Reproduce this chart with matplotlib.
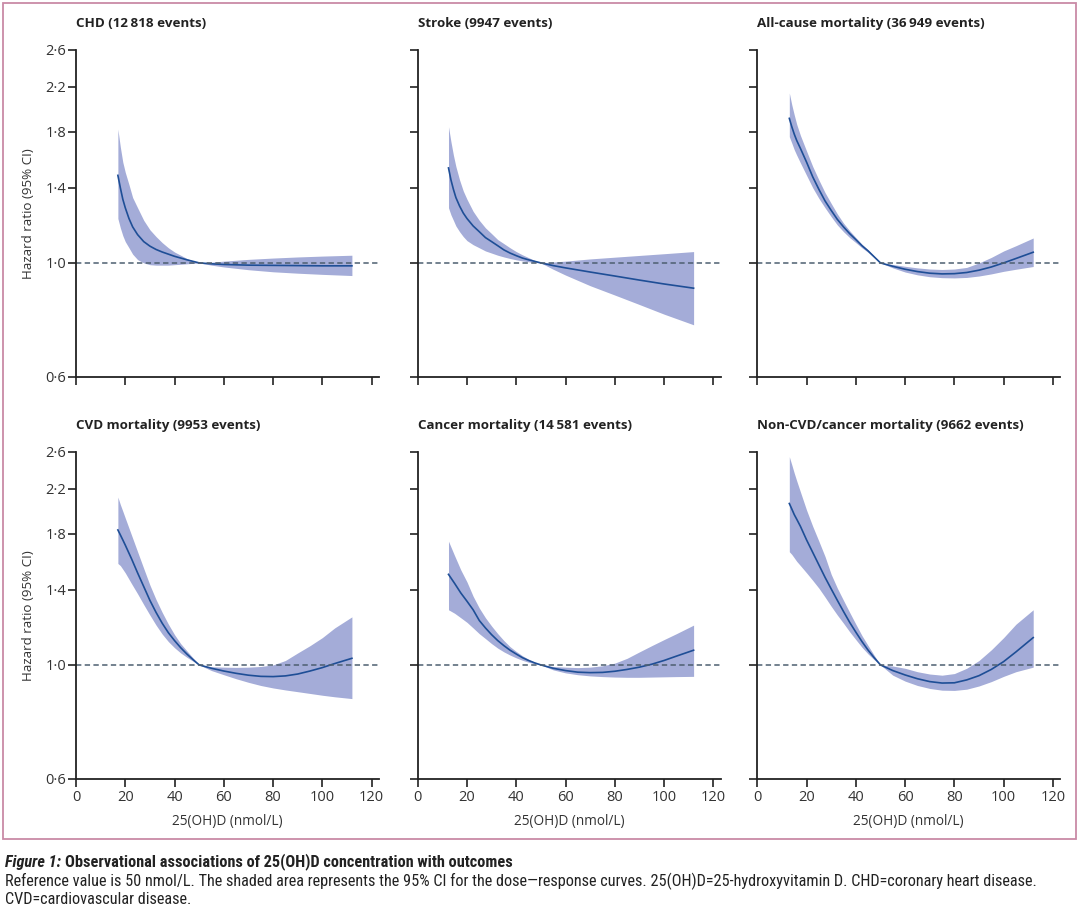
import matplotlib
matplotlib.use("Agg")
import matplotlib.pyplot as plt
from matplotlib import font_manager
from matplotlib.patches import Rectangle
from matplotlib.ticker import FixedLocator, NullLocator

# ---- data (25(OH)D in nmol/L, hazard ratios) ----
chd_x = [17, 18, 19, 20, 21.5, 23, 25, 27.5, 30, 32.5, 35, 37.5, 40, 42.5, 45, 47.5, 50,
         55, 60, 70, 80, 90, 100, 112]
chd_hr = [1.48, 1.40, 1.33, 1.28, 1.22, 1.175, 1.135, 1.10, 1.078, 1.062, 1.05, 1.04, 1.03, 1.022, 1.014, 1.007, 1.0,
          0.996, 0.993, 0.99, 0.989, 0.988, 0.987, 0.987]
chd_hi = [1.82, 1.68, 1.57, 1.50, 1.42, 1.34, 1.28, 1.21, 1.16, 1.125, 1.095, 1.07, 1.05, 1.035, 1.02, 1.009, 1.0,
          1.003, 1.008, 1.016, 1.022, 1.027, 1.031, 1.035]
chd_lo = [1.22, 1.17, 1.13, 1.10, 1.07, 1.04, 1.015, 1.0, 0.992, 0.99, 0.99, 0.99, 0.992, 0.994, 0.996, 0.998, 1.0,
          0.99, 0.982, 0.97, 0.961, 0.955, 0.95, 0.945]

stroke_x = [12.5, 13.5, 14.5, 15.5, 17, 18.5, 20, 22.5, 25, 27.5, 30, 32.5, 35, 37.5, 40, 42.5, 45, 47.5, 50,
            55, 60, 70, 80, 90, 100, 112]
stroke_hr = [1.53, 1.45, 1.39, 1.34, 1.29, 1.25, 1.22, 1.18, 1.15, 1.12, 1.10, 1.08, 1.06, 1.045, 1.033, 1.022,
             1.014, 1.007, 1.0, 0.988, 0.978, 0.96, 0.943, 0.926, 0.91, 0.893]
stroke_hi = [1.84, 1.72, 1.62, 1.54, 1.45, 1.38, 1.33, 1.26, 1.21, 1.17, 1.14, 1.11, 1.09, 1.07, 1.052, 1.037,
             1.024, 1.011, 1.0, 1.004, 1.008, 1.018, 1.026, 1.034, 1.042, 1.052]
stroke_lo = [1.28, 1.24, 1.21, 1.18, 1.15, 1.125, 1.105, 1.085, 1.07, 1.055, 1.045, 1.035, 1.027, 1.02, 1.014,
             1.009, 1.005, 1.002, 1.0, 0.972, 0.947, 0.903, 0.866, 0.83, 0.795, 0.758]

allc_x = [13, 14, 15, 16, 17.5, 20, 22.5, 25, 27.5, 30, 32.5, 35, 37.5, 40, 42.5, 45, 47.5, 50,
          55, 60, 65, 70, 75, 80, 85, 90, 95, 100, 105, 112]
allc_hr = [1.91, 1.84, 1.78, 1.73, 1.67, 1.57, 1.47, 1.39, 1.32, 1.265, 1.215, 1.175, 1.14, 1.11, 1.08, 1.055,
           1.027, 1.0, 0.985, 0.972, 0.962, 0.955, 0.952, 0.953, 0.958, 0.968, 0.982, 1.0, 1.02, 1.049]
allc_hi = [2.14, 2.03, 1.94, 1.86, 1.77, 1.65, 1.54, 1.45, 1.37, 1.305, 1.245, 1.195, 1.155, 1.12, 1.087, 1.06,
           1.03, 1.0, 0.993, 0.985, 0.978, 0.973, 0.971, 0.973, 0.98, 1.0, 1.025, 1.055, 1.08, 1.118]
allc_lo = [1.76, 1.71, 1.66, 1.62, 1.565, 1.48, 1.40, 1.335, 1.28, 1.23, 1.185, 1.15, 1.12, 1.095, 1.07, 1.048,
           1.024, 1.0, 0.978, 0.96, 0.948, 0.94, 0.936, 0.935, 0.937, 0.943, 0.952, 0.963, 0.972, 0.984]

cvd_x = [17, 18, 19, 20, 22.5, 25, 27.5, 30, 32.5, 35, 37.5, 40, 42.5, 45, 47.5, 50,
         55, 60, 65, 70, 75, 80, 85, 90, 95, 100, 105, 112]
cvd_hr = [1.83, 1.79, 1.75, 1.71, 1.61, 1.51, 1.42, 1.335, 1.265, 1.205, 1.155, 1.115, 1.08, 1.05, 1.024, 1.0,
          0.985, 0.973, 0.963, 0.955, 0.95, 0.949, 0.952, 0.96, 0.973, 0.988, 1.006, 1.03]
cvd_hi = [2.12, 2.05, 1.99, 1.93, 1.79, 1.66, 1.54, 1.43, 1.34, 1.265, 1.20, 1.145, 1.10, 1.065, 1.032, 1.0,
          0.992, 0.99, 0.989, 0.99, 0.993, 1.0, 1.02, 1.055, 1.09, 1.13, 1.18, 1.24]
cvd_lo = [1.575, 1.56, 1.535, 1.51, 1.44, 1.375, 1.31, 1.25, 1.195, 1.148, 1.11, 1.08, 1.055, 1.035, 1.017, 1.0,
          0.975, 0.957, 0.94, 0.925, 0.912, 0.902, 0.894, 0.887, 0.88, 0.873, 0.867, 0.86]

cancer_x = [12.5, 15, 17.5, 20, 22.5, 25, 27.5, 30, 32.5, 35, 37.5, 40, 42.5, 45, 47.5, 50,
            55, 60, 65, 70, 75, 80, 85, 90, 95, 100, 105, 112]
cancer_hr = [1.50, 1.44, 1.38, 1.33, 1.28, 1.22, 1.18, 1.145, 1.115, 1.09, 1.068, 1.05, 1.033, 1.02, 1.009, 1.0,
             0.985, 0.975, 0.968, 0.966, 0.967, 0.972, 0.98, 0.99, 1.003, 1.02, 1.04, 1.068]
cancer_hi = [1.74, 1.63, 1.53, 1.45, 1.36, 1.29, 1.235, 1.19, 1.15, 1.115, 1.085, 1.062, 1.042, 1.026, 1.012, 1.0,
             0.993, 0.99, 0.988, 0.99, 0.996, 1.008, 1.03, 1.06, 1.09, 1.12, 1.15, 1.195]
cancer_lo = [1.28, 1.26, 1.235, 1.21, 1.18, 1.15, 1.125, 1.10, 1.078, 1.06, 1.045, 1.032, 1.021, 1.012, 1.005, 1.0,
             0.978, 0.965, 0.957, 0.952, 0.949, 0.947, 0.946, 0.946, 0.947, 0.948, 0.949, 0.95]

other_x = [13, 14, 15, 16, 17.5, 20, 22.5, 25, 27.5, 30, 32.5, 35, 37.5, 40, 42.5, 45, 47.5, 50,
           55, 60, 65, 70, 75, 80, 85, 90, 95, 100, 105, 112]
other_hr = [2.06, 2.01, 1.96, 1.92, 1.86, 1.75, 1.655, 1.565, 1.48, 1.405, 1.335, 1.27, 1.21, 1.158, 1.11, 1.068,
            1.032, 1.0, 0.975, 0.956, 0.94, 0.928, 0.922, 0.923, 0.935, 0.953, 0.98, 1.015, 1.06, 1.13]
other_hi = [2.54, 2.45, 2.36, 2.28, 2.17, 2.0, 1.86, 1.74, 1.625, 1.50, 1.41, 1.335, 1.265, 1.20, 1.14, 1.09,
            1.043, 1.0, 0.995, 0.985, 0.97, 0.96, 0.955, 0.962, 0.985, 1.02, 1.07, 1.13, 1.20, 1.28]
other_lo = [1.66, 1.64, 1.615, 1.59, 1.56, 1.51, 1.46, 1.41, 1.355, 1.30, 1.25, 1.205, 1.16, 1.12, 1.082, 1.05,
            1.023, 1.0, 0.955, 0.93, 0.912, 0.90, 0.893, 0.892, 0.897, 0.91, 0.928, 0.95, 0.97, 0.99]

titles = ["CHD (12\u2009818 events)", "Stroke (9947 events)", "All-cause mortality (36\u2009949 events)",
          "CVD mortality (9953 events)", "Cancer mortality (14\u2009581 events)",
          "Non-CVD/cancer mortality (9662 events)"]

y_ticks = [0.6, 1.0, 1.4, 1.8, 2.2, 2.6]
y_ticklabels = ["0\u00b76", "1\u00b70", "1\u00b74", "1\u00b78", "2\u00b72", "2\u00b76"]
x_ticks = [0, 20, 40, 60, 80, 100, 120]

panels = [
    (chd_x, chd_hr, chd_lo, chd_hi),
    (stroke_x, stroke_hr, stroke_lo, stroke_hi),
    (allc_x, allc_hr, allc_lo, allc_hi),
    (cvd_x, cvd_hr, cvd_lo, cvd_hi),
    (cancer_x, cancer_hr, cancer_lo, cancer_hi),
    (other_x, other_hr, other_lo, other_hi),
]

caption_title = "Observational associations of 25(OH)D concentration with outcomes"
caption_l2 = ("Reference value is 50 nmol/L. The shaded area represents the 95% CI for the dose\u2014response "
              "curves. 25(OH)D=25-hydroxyvitamin D. CHD=coronary heart disease.")
caption_l3 = "CVD=cardiovascular disease."

# fonts
fonts = font_manager.fontManager.ttflist
names = {f.name for f in fonts}
panel_font = ["Open Sans", "DejaVu Sans"] if "Open Sans" in names else ["DejaVu Sans"]
cap_font, cap_stretch = "Liberation Sans", "normal"
for cand in ["Liberation Sans Narrow", "Roboto Condensed", "Open Sans Condensed"]:
    if cand in names:
        cap_font = cand
        break
else:
    if any(f.name == "DejaVu Sans" and f.stretch == "condensed" for f in fonts):
        cap_font, cap_stretch = "DejaVu Sans", "condensed"
plt.rcParams["font.family"] = panel_font

W, H = 1080, 915
fig = plt.figure(figsize=(W / 100, H / 100), dpi=100)

band_color = "#a4acd8"
line_color = "#1e4e96"
ref_color = "#4d5f70"

lefts = [76, 417.7, 757.3]
tops = [49.5, 451.5]
ax_w, ax_h = 303, 327.5

for i, (x, hr, lo, hi) in enumerate(panels):
    row, col = divmod(i, 3)
    ax = fig.add_axes([lefts[col] / W, 1 - (tops[row] + ax_h) / H, ax_w / W, ax_h / H])
    ax.fill_between(x, lo, hi, color=band_color, lw=0)
    ax.plot(x, hr, color=line_color, lw=1.2)
    ax.axhline(1.0, color=ref_color, lw=1.1, ls=(0, (3.5, 2.2)))
    ax.set_yscale("log")
    ax.set_ylim(0.6, 2.6)
    ax.set_xlim(0, 123)
    ax.yaxis.set_major_locator(FixedLocator(y_ticks))
    ax.yaxis.set_minor_locator(NullLocator())
    ax.set_xticks(x_ticks)
    for s in ["top", "right"]:
        ax.spines[s].set_visible(False)
    for s in ["left", "bottom"]:
        ax.spines[s].set_linewidth(1.3)
        ax.spines[s].set_color("#222222")
    ax.tick_params(direction="out", length=6, width=1.2, color="#222222",
                   labelsize=10.5, labelcolor="#333333")
    ax.tick_params(axis="x", pad=2)
    ax.tick_params(axis="y", pad=1.2)
    if col == 0:
        ax.set_yticklabels(y_ticklabels)
        ax.set_ylabel("Hazard ratio (95% CI)", fontsize=9.6, color="#333333", va="center")
        ax.yaxis.set_label_coords(-48 / ax_w, 0.5)
    else:
        ax.set_yticklabels([])
    if row == 1:
        ax.set_xticklabels([str(t) for t in x_ticks])
        ax.set_xlabel("25(OH)D (nmol/L)", fontsize=9.8, color="#333333", va="center")
        ax.xaxis.set_label_coords(0.5, -43 / ax_h)
    else:
        ax.set_xticklabels([])
    fig.text(lefts[col] / W, 1 - (tops[row] - 26) / H, titles[i], fontsize=9.6, fontweight="bold",
             color="#222222", va="center", ha="left")

# pink frame round the panels
fig.patches.append(Rectangle((3 / W, 1 - 839 / H), 1073 / W, 836 / H, transform=fig.transFigure,
                             fill=False, edgecolor="#c98aa6", lw=1.3))

# caption: size the font so the long line spans the same width as in the figure
renderer = fig.canvas.get_renderer()
cap_kw = dict(family=cap_font, fontstretch=cap_stretch, color="#222222", va="center")
t2 = fig.text(5 / W, 1 - 881 / H, caption_l2, fontsize=11, **cap_kw)
cap_size = 11 * 1038 / t2.get_window_extent(renderer).width
t2.set_fontsize(cap_size)
t1 = fig.text(5 / W, 1 - 862 / H, "Figure 1: ", fontsize=cap_size, fontstyle="italic",
              fontweight="bold", **cap_kw)
bb = t1.get_window_extent(renderer)
fig.text(bb.x1 / W, 1 - 862 / H, caption_title, fontsize=cap_size, fontweight="bold", **cap_kw)
fig.text(5 / W, 1 - 899 / H, caption_l3, fontsize=cap_size, **cap_kw)

fig.savefig("out.png", dpi=100)
